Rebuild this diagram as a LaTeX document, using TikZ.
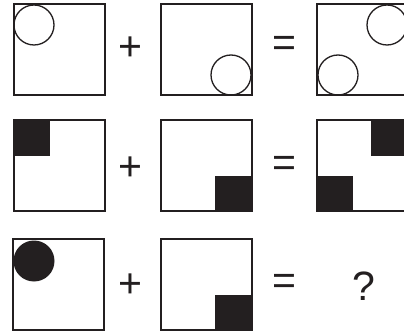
\documentclass[tikz,border=0pt]{standalone}
\usepackage{fontspec}
\setmainfont{Liberation Sans}
\definecolor{ink}{HTML}{231F20}
\begin{document}
\begin{tikzpicture}[x=1pt,y=-1pt,
  frame/.style={draw=ink,line width=1.3pt,fill=white},
  ring/.style={draw=ink,line width=1.3pt},
  blob/.style={fill=ink},
  sym/.style={text=ink,font=\fontsize{41}{41}\selectfont,inner sep=0pt,anchor=center}]
\useasboundingbox (0,0) rectangle (404,331);
\clip (0,0) rectangle (404,331);
% row 1
\draw[frame] (14,4) rectangle (105,95);
\draw[ring] (34,25) circle (20);
\node[sym] (p1) at (130,49) {+};
\draw[frame] (161,4) rectangle (252,95);
\draw[ring] (231,75) circle (20);
\node[sym] (e1) at (284,46) {=};
\draw[frame] (317,4) rectangle (408,95);
\draw[ring] (387,25) circle (20);
\draw[ring] (338,75) circle (20);
% row 2
\draw[frame] (14,120) rectangle (105,211);
\fill[blob] (14,120) rectangle (50,156);
\node[sym] (p2) at (130,169) {+};
\draw[frame] (161,120) rectangle (252,211);
\fill[blob] (215,176) rectangle (252,211);
\node[sym] (e2) at (284,166) {=};
\draw[frame] (317,120) rectangle (408,211);
\fill[blob] (371,120) rectangle (408,156);
\fill[blob] (317,176) rectangle (353,211);
% row 3
\draw[frame] (13,239) rectangle (104,330);
\fill[blob] (34,261) circle (20.5);
\node[sym] (p3) at (130,286) {+};
\draw[frame] (161,239) rectangle (252,330);
\fill[blob] (215,295) rectangle (252,330);
\node[sym] (e3) at (284,284) {=};
\node[sym] (q) at (364,286) {?};
\end{tikzpicture}
\end{document}
